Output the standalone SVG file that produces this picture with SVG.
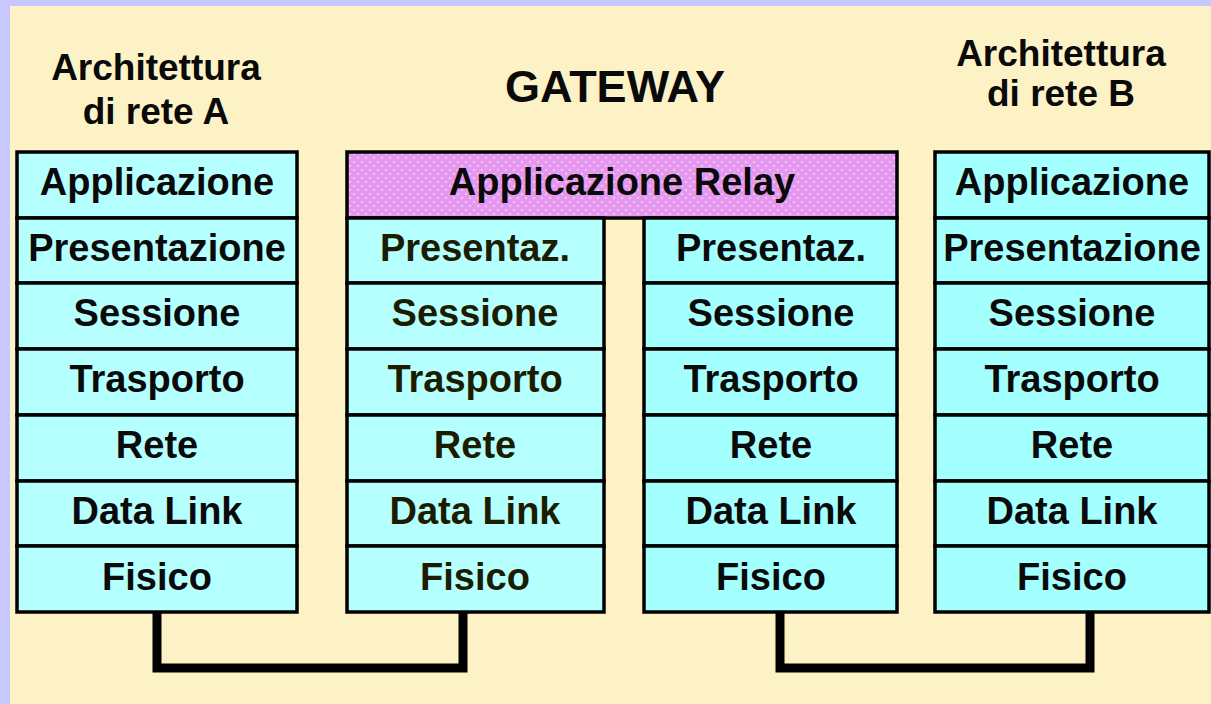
<svg xmlns="http://www.w3.org/2000/svg" width="1211" height="704" viewBox="0 0 1211 704">
<defs>
<pattern id="dots" width="8" height="8" patternUnits="userSpaceOnUse">
<rect width="8" height="8" fill="#E597F0"/>
<circle cx="2" cy="2" r="1.3" fill="#F2BDF6"/>
<circle cx="6" cy="6" r="1.3" fill="#F2BDF6"/>
</pattern>
<style>
.bg{fill:#FCF2C6}
.frame{fill:#C8C8FF}
.c1{fill:#B6FFFF;stroke:#000;stroke-width:3.5}
.c2{fill:#A4FFFF;stroke:#000;stroke-width:3.5}
.relay{fill:url(#dots);stroke:#000;stroke-width:3.5}
text{font-family:"Liberation Sans",Arial,sans-serif;font-weight:bold;text-anchor:middle;fill:#0a0a0a}
.t{font-size:38px}
.tg{font-size:38px;fill:#1c1c00}
.h{font-size:37px}
.title{font-size:45px}
.wire{fill:none;stroke:#000;stroke-width:9;stroke-linejoin:miter}
</style>
</defs>
<rect class="frame" x="0" y="0" width="1211" height="704"/>
<rect class="bg" x="10" y="6" width="1201" height="698"/>

<g id="heading-a">
<text class="h" x="156" y="80">Architettura</text>
<text class="h" x="156" y="124">di rete A</text>
</g>
<g id="heading-gateway">
<text class="title" x="615" y="102">GATEWAY</text>
</g>
<g id="heading-b">
<text class="h" x="1061" y="66">Architettura</text>
<text class="h" x="1061" y="106">di rete B</text>
</g>

<g id="connectors">
<polyline class="wire" points="157,612 157,668 463,668 463,612"/>
<polyline class="wire" points="780,612 780,668 1090,668 1090,612"/>
</g>

<!-- Stack A -->
<g id="a-applicazione"><rect class="c1" x="17" y="152" width="280" height="66"/><text class="t" x="157" y="195">Applicazione</text></g>
<g id="a-presentazione"><rect class="c1" x="17" y="218" width="280" height="65"/><text class="t" x="157" y="261">Presentazione</text></g>
<g id="a-sessione"><rect class="c1" x="17" y="283" width="280" height="66"/><text class="t" x="157" y="326">Sessione</text></g>
<g id="a-trasporto"><rect class="c1" x="17" y="349" width="280" height="66"/><text class="t" x="157" y="392">Trasporto</text></g>
<g id="a-rete"><rect class="c1" x="17" y="415" width="280" height="66"/><text class="t" x="157" y="458">Rete</text></g>
<g id="a-datalink"><rect class="c1" x="17" y="481" width="280" height="65"/><text class="t" x="157" y="524">Data Link</text></g>
<g id="a-fisico"><rect class="c1" x="17" y="546" width="280" height="66"/><text class="t" x="157" y="590">Fisico</text></g>

<!-- Gateway -->
<g id="gw-relay"><rect class="relay" x="347" y="152" width="550" height="66"/><text class="t" x="622" y="195">Applicazione Relay</text></g>

<g id="gw-l-presentaz"><rect class="c1" x="347" y="218" width="257" height="65"/><text class="tg" x="475" y="261">Presentaz.</text></g>
<g id="gw-l-sessione"><rect class="c1" x="347" y="283" width="257" height="66"/><text class="tg" x="475" y="326">Sessione</text></g>
<g id="gw-l-trasporto"><rect class="c1" x="347" y="349" width="257" height="66"/><text class="tg" x="475" y="392">Trasporto</text></g>
<g id="gw-l-rete"><rect class="c1" x="347" y="415" width="257" height="66"/><text class="tg" x="475" y="458">Rete</text></g>
<g id="gw-l-datalink"><rect class="c1" x="347" y="481" width="257" height="65"/><text class="tg" x="475" y="524">Data Link</text></g>
<g id="gw-l-fisico"><rect class="c1" x="347" y="546" width="257" height="66"/><text class="tg" x="475" y="590">Fisico</text></g>

<g id="gw-r-presentaz"><rect class="c2" x="644" y="218" width="253" height="65"/><text class="t" x="771" y="261">Presentaz.</text></g>
<g id="gw-r-sessione"><rect class="c2" x="644" y="283" width="253" height="66"/><text class="t" x="771" y="326">Sessione</text></g>
<g id="gw-r-trasporto"><rect class="c2" x="644" y="349" width="253" height="66"/><text class="t" x="771" y="392">Trasporto</text></g>
<g id="gw-r-rete"><rect class="c2" x="644" y="415" width="253" height="66"/><text class="t" x="771" y="458">Rete</text></g>
<g id="gw-r-datalink"><rect class="c2" x="644" y="481" width="253" height="65"/><text class="t" x="771" y="524">Data Link</text></g>
<g id="gw-r-fisico"><rect class="c2" x="644" y="546" width="253" height="66"/><text class="t" x="771" y="590">Fisico</text></g>

<!-- Stack B -->
<g id="b-applicazione"><rect class="c2" x="935" y="152" width="274" height="66"/><text class="t" x="1072" y="195">Applicazione</text></g>
<g id="b-presentazione"><rect class="c2" x="935" y="218" width="274" height="65"/><text class="t" x="1072" y="261">Presentazione</text></g>
<g id="b-sessione"><rect class="c2" x="935" y="283" width="274" height="66"/><text class="t" x="1072" y="326">Sessione</text></g>
<g id="b-trasporto"><rect class="c2" x="935" y="349" width="274" height="66"/><text class="t" x="1072" y="392">Trasporto</text></g>
<g id="b-rete"><rect class="c2" x="935" y="415" width="274" height="66"/><text class="t" x="1072" y="458">Rete</text></g>
<g id="b-datalink"><rect class="c2" x="935" y="481" width="274" height="65"/><text class="t" x="1072" y="524">Data Link</text></g>
<g id="b-fisico"><rect class="c2" x="935" y="546" width="274" height="66"/><text class="t" x="1072" y="590">Fisico</text></g>
</svg>
